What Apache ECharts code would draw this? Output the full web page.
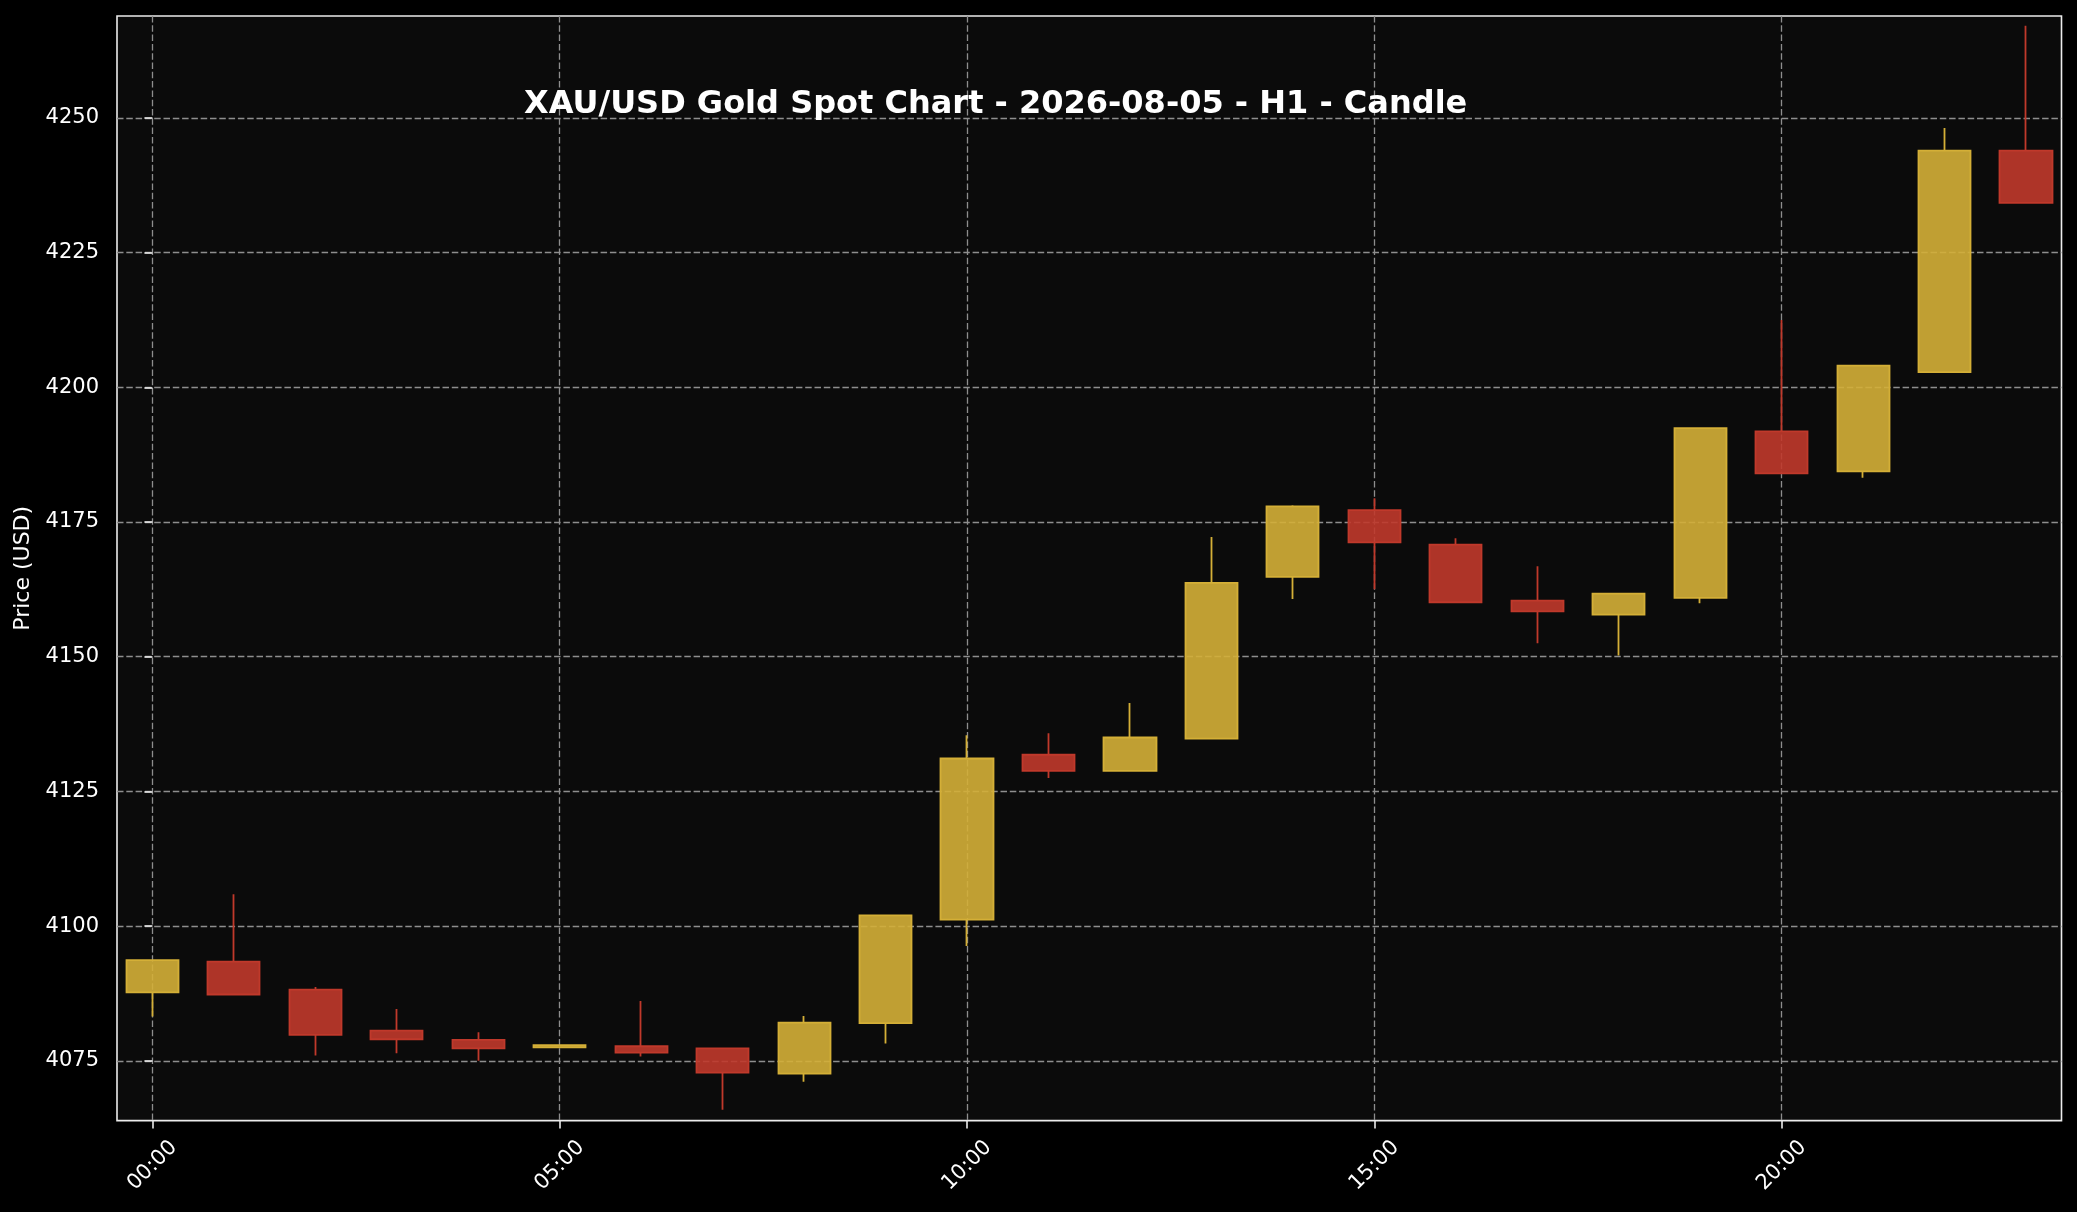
<!DOCTYPE html>
<html>
<head>
<meta charset="utf-8">
<script src="https://cdn.jsdelivr.net/npm/echarts@6/dist/echarts.min.js"></script>
<style>
  html, body { margin: 0; padding: 0; background: #000; }
  #chart { width: 2077px; height: 1212px; }
</style>
</head>
<body>
<div id="chart"></div>
<script>
// ---- data ----
const hours = [0,1,2,3,4,5,6,7,8,9,10,11,12,13,14,15,16,17,18,19,20,21,22,23];
const openP  = [4087.7,4093.4,4088.2,4080.6,4078.9,4077.5,4077.7,4077.3,4072.6,4082.0,4101.2,4131.8,4128.8,4134.8,4164.8,4177.2,4170.8,4160.4,4157.8,4160.9,4191.8,4184.4,4202.8,4243.9];
const closeP = [4093.7,4087.3,4079.8,4079.0,4077.3,4077.9,4076.5,4072.8,4082.1,4102.0,4131.1,4128.8,4135.0,4163.7,4177.9,4171.2,4160.1,4158.4,4161.7,4192.4,4184.0,4204.0,4243.9,4234.2];
const lowP   = [4083.2,4087.1,4076.0,4076.4,4075.0,4077.4,4075.8,4065.9,4071.1,4078.2,4096.3,4127.5,4128.7,4134.7,4160.7,4162.5,4160.0,4152.5,4150.2,4159.9,4183.9,4183.2,4202.7,4234.1];
const highP  = [4093.8,4105.9,4088.7,4084.6,4080.3,4078.0,4086.1,4077.4,4083.3,4102.1,4135.4,4135.8,4141.4,4172.2,4178.1,4179.4,4172.0,4166.8,4161.8,4192.6,4212.5,4204.1,4248.1,4267.1];
const xTickValues = [0,5,10,15,20];
const xTickLabels = ['00:00','05:00','10:00','15:00','20:00'];
const yTickValues = [4075,4100,4125,4150,4175,4200,4225,4250];

const candleData = hours.map((h, i) => [h, openP[i], closeP[i], lowP[i], highP[i]]);

const FONT = 'DejaVu Sans';
const chart = echarts.init(document.getElementById('chart'), null, { renderer: 'canvas' });
chart.setOption({
  backgroundColor: '#000000',
  animation: false,
  title: {
    text: 'XAU/USD Gold Spot Chart - 2026-08-05 - H1 - Candle',
    left: 524,
    top: 89,
    padding: 0,
    textStyle: { color: '#ffffff', fontFamily: FONT, fontWeight: 'bold', fontSize: 32 }
  },
  grid: {
    left: 117, right: 15.5, top: 16, bottom: 91.4,
    containLabel: false,
    outerBoundsMode: 'none',
    show: true,
    backgroundColor: '#0b0b0b',
    borderColor: '#ececec',
    borderWidth: 1.6
  },
  xAxis: {
    type: 'value',
    min: -0.435,
    max: 23.435,
    axisLine: { show: false },
    axisTick: { show: true, length: 8, lineStyle: { color: '#ececec', width: 1.6 }, customValues: xTickValues },
    axisLabel: {
      customValues: xTickValues,
      rotate: 45,
      align: 'center',
      verticalAlign: 'middle',
      margin: 45,
      color: '#ffffff',
      fontFamily: FONT,
      fontSize: 21,
      formatter: (v) => xTickLabels[xTickValues.indexOf(v)] || ''
    },
    splitLine: { show: true, lineStyle: { color: '#8e8e8e', width: 1.3, type: [6.5, 2.8] } }
  },
  yAxis: {
    type: 'value',
    min: 4063.9,
    max: 4268.9,
    scale: true,
    name: 'Price (USD)',
    nameLocation: 'middle',
    nameRotate: 90,
    nameGap: 77,
    nameTextStyle: { color: '#ffffff', fontFamily: FONT, fontSize: 22 },
    axisLine: { show: false },
    axisTick: { show: true, length: 8, lineStyle: { color: '#ececec', width: 1.6 }, customValues: yTickValues },
    axisLabel: {
      customValues: yTickValues,
      margin: 18,
      color: '#ffffff',
      fontFamily: FONT,
      fontSize: 21,
      formatter: (v) => String(v)
    },
    splitLine: { show: true, lineStyle: { color: '#8e8e8e', width: 1.3, type: [6.5, 2.8] } }
  },
  series: [{
    type: 'candlestick',
    data: candleData,
    encode: { x: 0, y: [1, 2, 3, 4] },
    barWidth: '65%',
    itemStyle: {
      color: 'rgba(212,175,55,0.9)',
      color0: 'rgba(192,57,43,0.9)',
      borderColor: '#D4AF37',
      borderColor0: '#C0392B',
      borderWidth: 1.8
    }
  }]
});
</script>
</body>
</html>
